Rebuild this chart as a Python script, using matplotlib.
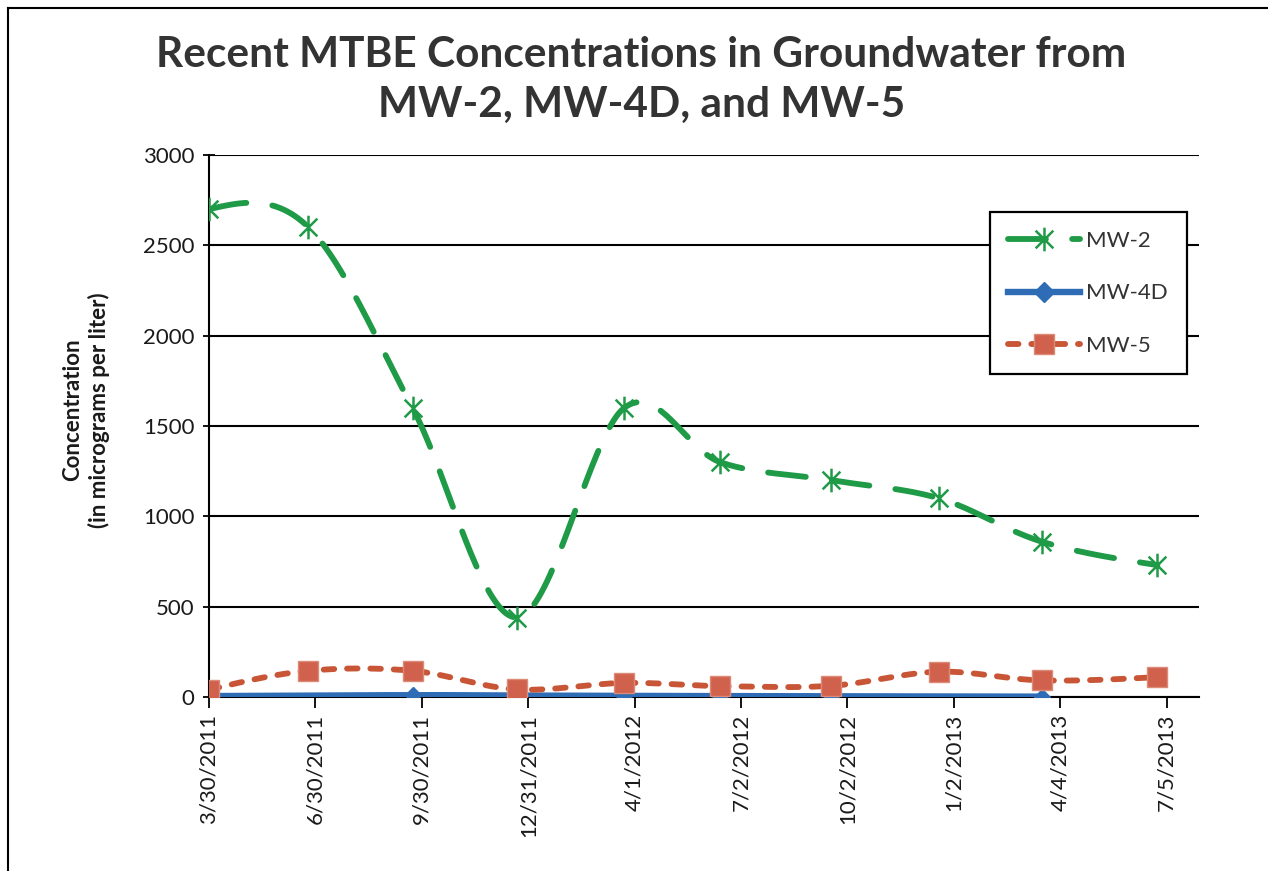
import datetime as dt
import numpy as np
import matplotlib
matplotlib.use("Agg")
import matplotlib.pyplot as plt
import matplotlib.dates as mdates
from matplotlib.path import Path
from matplotlib.lines import Line2D

# sampling dates (points sit a bit before the tick dates)
mw2_dates = ['2011-03-30', '2011-06-24', '2011-09-22', '2011-12-21', '2012-03-23',
             '2012-06-14', '2012-09-18', '2012-12-20', '2013-03-19', '2013-06-27']
mw2_vals = [2700, 2600, 1600, 440, 1600, 1300, 1200, 1100, 860, 730]

mw4d_dates = ['2011-03-30', '2011-09-22', '2011-12-21', '2012-03-23',
              '2012-06-14', '2012-09-18', '2013-03-19']
mw4d_vals = [5, 10, 8, 6, 5, 4, 2]

mw5_dates = mw2_dates
mw5_vals = [40, 145, 145, 42, 78, 60, 62, 140, 92, 110]

tick_start = dt.date(2011, 3, 30)
tick_step = 92      # days between axis labels
n_ticks = 10
axis_days = 856

green = '#1f9a47'
blue = '#2e6db6'
red = '#c85535'
sq_face = '#d0614c'


def to_num(dates):
    return mdates.date2num([dt.datetime.strptime(d, '%Y-%m-%d') for d in dates])


def smooth(x, y, n=40):
    # Excel-like smoothed line: bezier through points, 1/6 neighbour tangents
    p = np.column_stack([x, y]).astype(float)
    m = len(p)
    out = [p[:1]]
    t = np.linspace(0, 1, n)[1:, None]
    for i in range(m - 1):
        p0, p1 = p[i], p[i + 1]
        c1 = p0 + (p1 - p[i - 1]) / 6 if i > 0 else None
        c2 = p1 - (p[i + 2] - p0) / 6 if i + 2 < m else None
        if c1 is None and c2 is None:
            c1, c2 = p0, p1
        elif c1 is None:
            c1 = p0 + (c2 - p0) / 2
        elif c2 is None:
            c2 = p1 + (c1 - p1) / 2
        seg = (1 - t) ** 3 * p0 + 3 * (1 - t) ** 2 * t * c1 + 3 * (1 - t) * t ** 2 * c2 + t ** 3 * p1
        out.append(seg)
    return np.vstack(out)


star = Path([(0, -1), (0, 1), (-0.75, -0.75), (0.75, 0.75), (-0.75, 0.75), (0.75, -0.75)],
            [Path.MOVETO, Path.LINETO] * 3)

plt.rcParams['font.family'] = ['Lato', 'DejaVu Sans']

fig = plt.figure(figsize=(12.68, 8.71), dpi=100)
ax = fig.add_axes([209 / 1268, 1 - 697 / 871, 990 / 1268, 542 / 871])

lw = 4.2
mw2_style = (0, (6.5, 4.5))
mw5_style = (0, (1.8, 2.2))

x2 = to_num(mw2_dates)
x4 = to_num(mw4d_dates)
x5 = to_num(mw5_dates)

c = smooth(x2, mw2_vals)
ax.plot(c[:, 0], c[:, 1], color=green, lw=lw, linestyle=mw2_style, dash_capstyle='round', zorder=3)
ax.plot(x2, mw2_vals, linestyle='none', marker=star, ms=17, mfc='none', mec=green, mew=1.8, zorder=4)

c = smooth(x4, mw4d_vals)
ax.plot(c[:, 0], c[:, 1], color=blue, lw=lw + 0.4, solid_capstyle='butt', zorder=3)
ax.plot(x4, mw4d_vals, linestyle='none', marker='D', ms=8, color=blue, zorder=4)

c = smooth(x5, mw5_vals)
ax.plot(c[:, 0], c[:, 1], color=red, lw=lw, linestyle=mw5_style, dash_capstyle='round', zorder=5)
ax.plot(x5, mw5_vals, linestyle='none', marker='s', ms=14, mfc=sq_face, mec='#dd8a78', mew=1.0, zorder=6)

x0 = mdates.date2num(dt.datetime.combine(tick_start, dt.time()))
ax.set_xlim(x0, x0 + axis_days)
ax.set_ylim(0, 3000)

ticks = [tick_start + dt.timedelta(days=tick_step * k) for k in range(n_ticks)]
ax.set_xticks(mdates.date2num([dt.datetime.combine(d, dt.time()) for d in ticks]))
ax.set_xticklabels([f'{d.month}/{d.day}/{d.year}' for d in ticks], rotation=90,
                   fontsize=16, color='#1a1a1a')
ax.set_yticks(np.arange(0, 3001, 500))
ax.tick_params(axis='y', direction='inout', length=9, width=1.3, labelsize=16,
               labelcolor='#1a1a1a', pad=6)
ax.tick_params(axis='x', direction='out', length=8, width=1.3, pad=4)

ax.yaxis.grid(True, color='black', lw=1.5)
ax.set_axisbelow(True)
for s in ['top', 'right']:
    ax.spines[s].set_visible(False)
ax.spines['left'].set_linewidth(1.5)
ax.spines['bottom'].set_linewidth(1.5)

handles = [
    Line2D([], [], color=green, lw=lw, linestyle=mw2_style, dash_capstyle='round',
           marker=star, ms=17, mfc='none', mec=green, mew=1.8),
    Line2D([], [], color=blue, lw=lw + 0.4, marker='D', ms=10),
    Line2D([], [], color=red, lw=lw, linestyle=mw5_style, dash_capstyle='round',
           marker='s', ms=14, mfc=sq_face, mec='#dd8a78'),
]
leg = ax.legend(handles, ['MW-2', 'MW-4D', 'MW-5'], loc='upper right',
                bbox_to_anchor=(0.999, 0.915), fontsize=16, handlelength=3.2,
                handletextpad=0.3, labelspacing=1.45, borderpad=0.85, numpoints=1,
                fancybox=False, framealpha=1, edgecolor='black')
leg.get_frame().set_linewidth(1.6)
for t in leg.get_texts():
    t.set_color('#333333')

fig.text(0.506, 1 - 36 / 871, 'Recent MTBE Concentrations in Groundwater from\nMW-2, MW-4D, and MW-5',
         ha='center', va='top', fontsize=30.5, fontweight='bold', color='#333333', linespacing=1.38)
fig.text(86 / 1268, 1 - 410 / 871, 'Concentration\n(in micrograms per liter)', rotation=90,
         ha='center', va='center', fontsize=16, fontweight='bold', color='#1a1a1a',
         multialignment='center', linespacing=1.25)

# scanned chart border
fig.add_artist(Line2D([8 / 1268, 8 / 1268], [0, 1 - 8 / 871], color='black', lw=1.5))
fig.add_artist(Line2D([8 / 1268, 1], [1 - 8 / 871, 1 - 8 / 871], color='black', lw=1.5))

fig.savefig('out.png', dpi=100)
